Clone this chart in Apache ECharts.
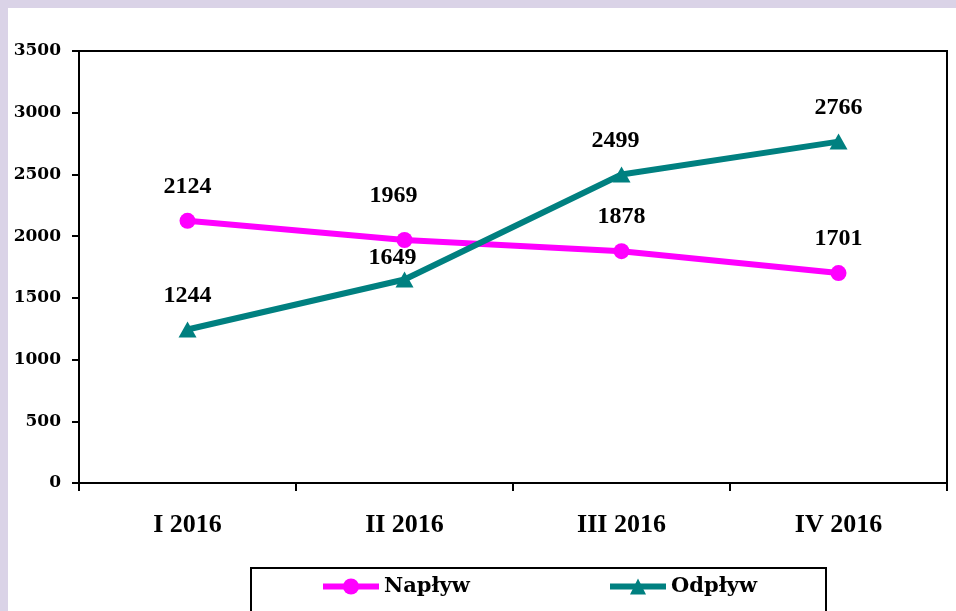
<!DOCTYPE html>
<html><head><meta charset="utf-8">
<script src="https://cdn.jsdelivr.net/npm/echarts@6/dist/echarts.min.js"></script>
<style>html,body{margin:0;padding:0;background:#fff;} #c{width:956px;height:611px;}</style>
</head><body><div id="c"></div>
<script>
const categories = ['I 2016', 'II 2016', 'III 2016', 'IV 2016'];
const naplyw = [2124, 1969, 1878, 1701];
const odplyw = [1244, 1649, 2499, 2766];
const yTicks = [0, 500, 1000, 1500, 2000, 2500, 3000, 3500];

// label nudges (styling only)
const naplywNudge = [[0, 0], [-11, -10], [0, 0], [0, 0]];
const odplywNudge = [[0, 0], [-12, 12], [-6, 0], [0, 0]];

function withNudge(vals, nudge) {
  return vals.map((v, i) => ({ value: v, label: { offset: nudge[i] } }));
}

const chart = echarts.init(document.getElementById('c'), null, { renderer: 'canvas' });
const labelFont = { fontFamily: 'Liberation Serif', fontWeight: 'bold', color: '#000' };
const legendText = { fontFamily: 'DejaVu Serif', fontWeight: 'bold', fontSize: 21, color: '#000' };
chart.setOption({
  backgroundColor: '#fff',
  animation: false,
  graphic: [
    { type: 'rect', shape: { x: 0, y: 0, width: 956, height: 8 }, style: { fill: '#dad3e7' }, z: 100 },
    { type: 'rect', shape: { x: 0, y: 0, width: 8, height: 611 }, style: { fill: '#dad3e7' }, z: 100 },
    { type: 'rect', shape: { x: 251, y: 568, width: 575, height: 60 }, style: { fill: 'none', stroke: '#000', lineWidth: 2 }, z: 1 }
  ],
  grid: { left: 79, top: 51, right: 9, bottom: 128, show: true, borderColor: '#000', borderWidth: 2 },
  xAxis: {
    type: 'category',
    data: categories,
    boundaryGap: true,
    axisLine: { lineStyle: { color: '#000', width: 2 } },
    axisTick: { show: true, length: 8, lineStyle: { color: '#000', width: 2 } },
    axisLabel: Object.assign({ fontSize: 26, margin: 29 }, labelFont),
    splitLine: { show: false }
  },
  yAxis: {
    type: 'value',
    min: yTicks[0],
    max: yTicks[yTicks.length - 1],
    interval: yTicks[1] - yTicks[0],
    axisLine: { show: true, lineStyle: { color: '#000', width: 2 } },
    axisTick: { show: true, length: 7, lineStyle: { color: '#000', width: 2 } },
    axisLabel: { fontFamily: 'DejaVu Serif', fontWeight: 'bold', fontSize: 17, color: '#000', margin: 18,
      formatter: v => String(v) },
    splitLine: { show: false }
  },
  legend: [
    { data: ['Napływ'], left: 320, top: 576, padding: 0, itemWidth: 56, itemHeight: 20, itemGap: 5,
      lineStyle: { width: 6 }, textStyle: legendText },
    { data: ['Odpływ'], left: 607, top: 576, padding: 0, itemWidth: 56, itemHeight: 20, itemGap: 5,
      lineStyle: { width: 6 }, textStyle: legendText }
  ],
  series: [
    {
      name: 'Napływ', type: 'line', data: withNudge(naplyw, naplywNudge),
      symbol: 'circle', symbolSize: 16,
      itemStyle: { color: '#ff00ff' },
      lineStyle: { color: '#ff00ff', width: 6 },
      label: Object.assign({ show: true, position: 'top', distance: 14, fontSize: 24 }, labelFont),
      z: 3
    },
    {
      name: 'Odpływ', type: 'line', data: withNudge(odplyw, odplywNudge),
      symbol: 'triangle', symbolSize: [18, 16],
      itemStyle: { color: '#008080' },
      lineStyle: { color: '#008080', width: 6 },
      label: Object.assign({ show: true, position: 'top', distance: 14, fontSize: 24 }, labelFont),
      z: 4
    }
  ]
});
</script>
</body></html>
